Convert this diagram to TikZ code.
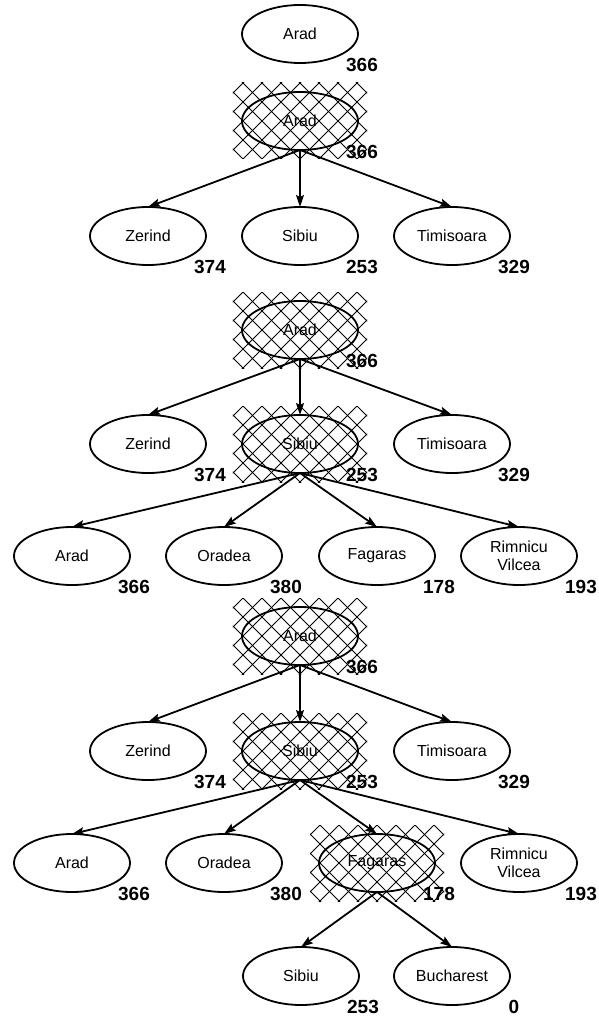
\documentclass[tikz,border=0pt]{standalone}
\usepackage{fontspec}
\setmainfont{Liberation Sans}
\usetikzlibrary{arrows.meta, positioning, backgrounds, shapes.geometric}

\begin{document}
\begin{tikzpicture}[
      x=1pt, y=1pt,
      city/.style={ellipse, draw, line width=1.8pt, minimum width=116pt, minimum height=58pt,
                   inner sep=1pt, outer sep=0pt, align=center, font=\fontsize{16}{18}\selectfont},
      score/.style={font=\fontsize{19}{19}\selectfont\bfseries, inner sep=0pt,
                    xshift=62pt, yshift=-31pt},
      arr/.style={-{Stealth[length=12pt, width=8pt, inset=2pt]}, line width=1.8pt},
      hatch/.style={line width=0.9pt}
    ]
    \useasboundingbox (-300,34) rectangle (298,-982);

    % initial state
    \node[city] (a0) at (0,0) {Arad};
    \node[score] (a0h) at (a0) {366};

    % after expanding Arad
    \node[city] (a1) at (0,-87) {Arad};
    \node[city, below=57pt of a1] (s1) {Sibiu};
    \node[city, left=36pt of s1] (z1) {Zerind};
    \node[city, right=36pt of s1] (t1) {Timisoara};
    \node[score] (a1h) at (a1) {366};
    \node[score] (s1h) at (s1) {253};
    \node[score] (z1h) at (z1) {374};
    \node[score] (t1h) at (t1) {329};

    \draw[arr] (a1.south) -- (z1.north);
    \draw[arr] (a1.south) -- (s1.north);
    \draw[arr] (a1.south) -- (t1.north);

    % after expanding Sibiu
    \node[city] (a2) at (0,-296) {Arad};
    \node[city, below=56pt of a2] (s2) {Sibiu};
    \node[city, left=36pt of s2] (z2) {Zerind};
    \node[city, right=36pt of s2] (t2) {Timisoara};
    \node[city, below=54pt of s2, xshift=-76pt] (o2) {Oradea};
    \node[city, left=36pt of o2] (ar2) {Arad};
    \node[city, right=37pt of o2] (f2) {Fagaras};
    \node[city, right=26pt of f2] (r2) {Rimnicu\\Vilcea};
    \node[score] (a2h) at (a2) {366};
    \node[score] (s2h) at (s2) {253};
    \node[score] (z2h) at (z2) {374};
    \node[score] (t2h) at (t2) {329};
    \node[score] (ar2h) at (ar2) {366};
    \node[score] (o2h) at (o2) {380};
    \node[score] (f2h) at (f2) {178};
    \node[score] (r2h) at (r2) {193};

    \draw[arr] (a2.south) -- (z2.north);
    \draw[arr] (a2.south) -- (s2.north);
    \draw[arr] (a2.south) -- (t2.north);
    \draw[arr] (s2.south) -- (ar2.north);
    \draw[arr] (s2.south) -- (o2.north);
    \draw[arr] (s2.south) -- (f2.north);
    \draw[arr] (s2.south) -- (r2.north);

    % after expanding Fagaras
    \node[city] (a3) at (0,-602) {Arad};
    \node[city, below=57pt of a3] (s3) {Sibiu};
    \node[city, left=36pt of s3] (z3) {Zerind};
    \node[city, right=36pt of s3] (t3) {Timisoara};
    \node[city, below=54pt of s3, xshift=-76pt] (o3) {Oradea};
    \node[city, left=36pt of o3] (ar3) {Arad};
    \node[city, right=37pt of o3] (f3) {Fagaras};
    \node[city, right=26pt of f3] (r3) {Rimnicu\\Vilcea};
    \node[city, below=55pt of f3, xshift=-76pt] (sb3) {Sibiu};
    \node[city, right=35pt of sb3] (b3) {Bucharest};
    \node[score] (a3h) at (a3) {366};
    \node[score] (s3h) at (s3) {253};
    \node[score] (z3h) at (z3) {374};
    \node[score] (t3h) at (t3) {329};
    \node[score] (ar3h) at (ar3) {366};
    \node[score] (o3h) at (o3) {380};
    \node[score] (f3h) at (f3) {178};
    \node[score] (r3h) at (r3) {193};
    \node[score] (sb3h) at (sb3) {253};
    \node[score] (b3h) at (b3) {0};

    \draw[arr] (a3.south) -- (z3.north);
    \draw[arr] (a3.south) -- (s3.north);
    \draw[arr] (a3.south) -- (t3.north);
    \draw[arr] (s3.south) -- (ar3.north);
    \draw[arr] (s3.south) -- (o3.north);
    \draw[arr] (s3.south) -- (f3.north);
    \draw[arr] (s3.south) -- (r3.north);
    \draw[arr] (f3.south) -- (sb3.north);
    \draw[arr] (f3.south) -- (b3.north);

    % cross-hatching behind the expanded nodes
    \begin{scope}[on background layer]
      \foreach \n in {a1, a2, s2, a3, s3, f3} {
        \begin{scope}[shift={(\n)}]
          \clip (-67,-38) rectangle (67,38);
          \foreach \k in {-8,...,8} {
            \draw[hatch] (\k*19-80,-80) -- ++(160,160);
            \draw[hatch] (\k*19+80,-80) -- ++(-160,160);
          }
        \end{scope}
      }
    \end{scope}
  \end{tikzpicture}
\end{document}
